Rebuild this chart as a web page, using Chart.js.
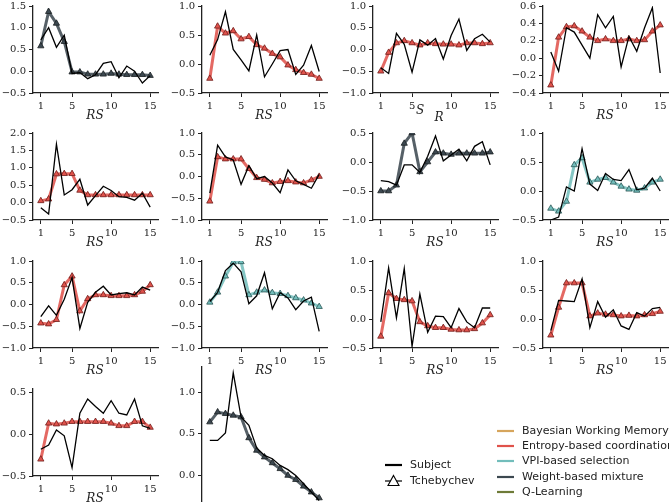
<!DOCTYPE html>
<html lang="en">
<head>
<meta charset="UTF-8">
<title>Tchebychev fits per subject</title>
<script src="https://cdn.jsdelivr.net/npm/chart.js"></script>
<style>
    body { margin: 0; background: #fff; }
    #figure { position: relative; width: 669px; height: 502px; overflow: hidden; }
    #figure canvas { position: absolute; }
    .xlabel { position: absolute; font: italic 12px 'DejaVu Serif', serif; color: #222; transform: translate(-50%, -50%); white-space: nowrap; }
    .leg { position: absolute; font: 11px 'DejaVu Sans', sans-serif; color: #222; white-space: nowrap; }
    .leg svg { position: absolute; }
</style>
</head>
<body>
<div id="figure"></div>
<script>
// x values: sessions 1..15
const sessions = [1, 2, 3, 4, 5, 6, 7, 8, 9, 10, 11, 12, 13, 14, 15];

// model names and colours
const modelNames = ['Bayesian Working Memory', 'Entropy-based coordination', 'VPI-based selection', 'Weight-based mixture', 'Q-Learning'];
const modelColors = ['#d6a55c', '#e0524b', '#72bdbb', '#3c4850', '#6e7b38'];
const modelEdges = ['#6b4f22', '#6e1d1a', '#2c5756', '#1a1f22', '#333b17'];

// which model gives the Tchebychev fit in each panel (index into modelNames)
const panelModel = [3, 1, 1, 1, 1, 1, 3, 2, 1, 2, 1, 1, 1, 3];

// y axis range and ticks per panel
const yMin = [-0.5, -0.5, -1.0, -0.4, -0.5, -1.0, -1.0, -0.5, -1.0, -1.0, -0.5, -0.5, -0.5, -0.45];
const yMax = [1.5, 1.0, 1.0, 0.6, 2.0, 1.0, 0.5, 1.0, 1.0, 1.0, 1.0, 1.0, 0.54, 1.3];
const yTicks = [
    [-0.5, 0, 0.5, 1, 1.5], [-0.5, 0, 0.5, 1], [-1, -0.5, 0, 0.5, 1], [-0.4, -0.2, 0, 0.2, 0.4, 0.6],
    [-0.5, 0, 0.5, 1, 1.5, 2], [-1, -0.5, 0, 0.5, 1], [-1, -0.5, 0, 0.5], [-0.5, 0, 0.5, 1],
    [-1, -0.5, 0, 0.5, 1], [-1, -0.5, 0, 0.5, 1], [-0.5, 0, 0.5, 1], [-0.5, 0, 0.5, 1],
    [-0.5, 0, 0.5], [0, 0.5, 1]
];

// subject curves
const subj01 = [0.72, 1.0, 0.55, 0.83, -0.05, -0.03, -0.17, -0.08, 0.18, 0.22, -0.15, 0.12, 0.0, -0.27, -0.1];
const subj02 = [0.15, 0.42, 0.9, 0.25, 0.07, -0.12, 0.5, -0.22, 0.0, 0.23, 0.25, -0.18, -0.02, 0.32, -0.13];
const subj03 = [-0.42, -0.55, 0.37, 0.12, -0.52, 0.22, 0.1, 0.25, -0.22, 0.32, 0.7, -0.02, 0.25, 0.35, 0.17];
const subj04 = [0.07, -0.15, 0.35, 0.3, 0.15, 0.0, 0.5, 0.35, 0.48, -0.1, 0.25, 0.08, 0.35, 0.58, -0.17];
const subj05 = [-0.15, -0.33, 1.68, 0.22, 0.37, 0.67, -0.07, 0.2, 0.47, 0.35, 0.17, 0.15, 0.07, 0.27, -0.13];
const subj06 = [-0.38, 0.72, 0.45, 0.38, -0.18, 0.25, -0.05, 0.0, -0.15, -0.37, 0.15, -0.1, -0.18, -0.27, 0.05];
const subj07 = [-0.32, -0.34, -0.4, -0.05, -0.05, -0.18, 0.1, 0.45, 0.02, 0.12, 0.22, 0.02, 0.27, 0.35, -0.05];
const subj08 = [-0.5, -0.45, 0.07, 0.0, 0.73, 0.12, 0.01, 0.3, 0.2, 0.18, 0.37, 0.02, 0.05, 0.22, 0.0];
const subj09 = [-0.28, -0.03, -0.25, 0.12, 0.62, -0.55, 0.05, 0.28, 0.42, 0.22, 0.25, 0.27, 0.22, 0.4, 0.33];
const subj10 = [0.07, 0.28, 0.78, 0.95, 0.75, 0.02, 0.2, 0.73, -0.1, 0.27, 0.15, -0.12, 0.08, 0.17, -0.62];
const subj11 = [-0.05, 0.88, 0.02, 0.87, -0.47, 0.43, -0.23, 0.05, 0.04, -0.15, 0.18, -0.05, -0.15, 0.19, 0.19];
const subj12 = [-0.2, 0.32, 0.31, 0.3, 0.69, -0.15, 0.3, 0.03, 0.16, -0.12, -0.18, 0.11, 0.05, 0.18, 0.2];
const subj13 = [-0.18, -0.13, 0.05, -0.02, -0.4, 0.25, 0.42, 0.33, 0.25, 0.4, 0.25, 0.23, 0.42, 0.1, 0.07];
const subj14 = [0.42, 0.42, 0.51, 1.23, 0.7, 0.6, 0.33, 0.24, 0.2, 0.12, 0.07, 0.0, -0.1, -0.2, -0.3];

// Tchebychev fits
const fit01 = [0.58, 1.37, 1.1, 0.68, -0.02, -0.02, -0.07, -0.07, -0.07, -0.05, -0.07, -0.08, -0.08, -0.08, -0.1];
const fit02 = [-0.25, 0.65, 0.53, 0.57, 0.43, 0.47, 0.33, 0.27, 0.18, 0.12, -0.02, -0.1, -0.15, -0.18, -0.25];
const fit03 = [-0.5, -0.07, 0.15, 0.2, 0.15, 0.1, 0.15, 0.13, 0.12, 0.12, 0.1, 0.15, 0.15, 0.13, 0.15];
const fit04 = [-0.31, 0.24, 0.36, 0.37, 0.31, 0.24, 0.2, 0.22, 0.2, 0.2, 0.22, 0.2, 0.21, 0.31, 0.38];
const fit05 = [0.05, 0.1, 0.82, 0.83, 0.83, 0.35, 0.22, 0.22, 0.22, 0.22, 0.22, 0.22, 0.22, 0.22, 0.22];
const fit06 = [-0.57, 0.45, 0.4, 0.4, 0.4, 0.18, -0.03, -0.07, -0.15, -0.12, -0.1, -0.13, -0.15, -0.08, 0.0];
const fit07 = [-0.5, -0.5, -0.4, 0.32, 0.5, -0.17, 0.0, 0.17, 0.15, 0.13, 0.15, 0.15, 0.15, 0.15, 0.17];
const fit08 = [-0.3, -0.35, -0.18, 0.45, 0.57, 0.15, 0.2, 0.23, 0.15, 0.08, 0.03, 0.01, 0.05, 0.15, 0.2];
const fit09 = [-0.43, -0.45, -0.35, 0.45, 0.65, -0.15, 0.13, 0.22, 0.22, 0.2, 0.2, 0.2, 0.22, 0.3, 0.45];
const fit10 = [0.05, 0.28, 0.65, 0.97, 0.98, 0.22, 0.28, 0.33, 0.27, 0.25, 0.2, 0.15, 0.1, 0.03, -0.05];
const fit11 = [-0.3, 0.45, 0.35, 0.33, 0.31, -0.05, -0.12, -0.15, -0.15, -0.18, -0.19, -0.19, -0.17, -0.07, 0.07];
const fit12 = [-0.28, 0.2, 0.62, 0.62, 0.62, 0.05, 0.1, 0.08, 0.07, 0.05, 0.06, 0.05, 0.07, 0.09, 0.13];
const fit13 = [-0.3, 0.13, 0.12, 0.13, 0.15, 0.15, 0.15, 0.15, 0.15, 0.13, 0.1, 0.1, 0.15, 0.15, 0.08];
const fit14 = [0.64, 0.76, 0.74, 0.72, 0.7, 0.45, 0.3, 0.22, 0.15, 0.08, 0.0, -0.05, -0.13, -0.2, -0.27];

const subjects = [subj01, subj02, subj03, subj04, subj05, subj06, subj07, subj08, subj09, subj10, subj11, subj12, subj13, subj14];
const fits = [fit01, fit02, fit03, fit04, fit05, fit06, fit07, fit08, fit09, fit10, fit11, fit12, fit13, fit14];

// layout: left edge of y axis per column, top of plot per row
const colX = [33, 202, 373, 543];
const rowY = [5, 132, 260, 388];
const plotW = 125, plotH = 88;
const padTop = 8, padRight = 8, axisW = 33, axisH = 24;

const fig = document.getElementById('figure');

function fmt(v) {
    const s = Math.abs(v).toFixed(1);
    return (v < -1e-9 ? '\u2212' : '') + s;
}

function pts(arr) {
    return sessions.map((x, i) => ({ x: x, y: arr[i] }));
}

subjects.forEach((subj, p) => {
    const col = p % 4, row = Math.floor(p / 4);
    // last panel is taller (same 84 px per unit as its neighbour, runs off the bottom)
    let top = rowY[row], ph = plotH;
    if (p === 13) { top = 475 - 84 * yMax[p]; ph = 84 * (yMax[p] - yMin[p]); }
    const c = document.createElement('canvas');
    const w = axisW + plotW + padRight, h = Math.round(padTop + ph + axisH);
    c.width = w; c.height = h;
    c.style.left = (colX[col] - axisW) + 'px';
    c.style.top = Math.round(top - padTop) + 'px';
    c.style.width = w + 'px'; c.style.height = h + 'px';
    fig.appendChild(c);

    const m = panelModel[p];
    const axisCommon = {
        border: { display: true, color: '#222', width: 1.3 },
        grid: { display: true, drawOnChartArea: false, drawTicks: true, tickLength: 4, color: '#222', tickWidth: 1 },
        ticks: { color: '#222', font: { family: 'DejaVu Serif', size: 10 }, padding: 3, autoSkip: false, maxRotation: 0 }
    };

    new Chart(c, {
        type: 'line',
        data: {
            datasets: [
                {
                    label: 'Subject', data: pts(subj), borderColor: '#000', borderWidth: 1.3,
                    pointRadius: 0, tension: 0, order: 1
                },
                {
                    label: 'Tchebychev', data: pts(fits[p]), borderColor: modelColors[m] + 'dd', borderWidth: 3,
                    pointStyle: 'triangle', pointRadius: 3.6, pointBackgroundColor: modelColors[m],
                    pointBorderColor: modelEdges[m], pointBorderWidth: 0.8, tension: 0, order: 2
                }
            ]
        },
        options: {
            responsive: false,
            animation: false,
            devicePixelRatio: 1,
            layout: { padding: { top: padTop, right: padRight, left: 0, bottom: 0 } },
            plugins: { legend: { display: false }, tooltip: { enabled: false } },
            scales: {
                x: Object.assign({}, axisCommon, {
                    type: 'linear', min: 0, max: 16,
                    afterBuildTicks: s => { s.ticks = [1, 5, 10, 15].map(v => ({ value: v })); },
                    afterFit: s => { s.height = axisH; },
                    ticks: Object.assign({}, axisCommon.ticks, { callback: v => String(v) })
                }),
                y: Object.assign({}, axisCommon, {
                    min: yMin[p], max: yMax[p],
                    afterBuildTicks: s => { s.ticks = yTicks[p].map(v => ({ value: v })); },
                    afterFit: s => { s.width = axisW; },
                    ticks: Object.assign({}, axisCommon.ticks, { callback: v => fmt(v) })
                })
            }
        }
    });

    // x axis label
    if (p === 2) {
        addLabel('S', colX[col] + 47, rowY[row] + plotH + 17);
        addLabel('R', colX[col] + 66, rowY[row] + plotH + 24);
    } else if (p !== 13) {
        addLabel('RS', colX[col] + 62, rowY[row] + plotH + 22);
    }
});

function addLabel(text, x, y) {
    const d = document.createElement('div');
    d.className = 'xlabel';
    d.textContent = text;
    d.style.left = x + 'px';
    d.style.top = y + 'px';
    fig.appendChild(d);
}

// legends
function legendLine(x, y, color, text, marker) {
    const d = document.createElement('div');
    d.className = 'leg';
    d.style.left = x + 'px';
    d.style.top = (y - 8) + 'px';
    let svg = '<svg width="20" height="16" style="left:0;top:0"><line x1="1" y1="8" x2="18" y2="8" stroke="' + color + '" stroke-width="' + (marker ? 1.2 : 2.2) + '"/>';
    if (marker) svg += '<polygon points="9.5,2.5 15,12.5 4,12.5" fill="#fff" stroke="#000" stroke-width="1.1"/>';
    svg += '</svg>';
    d.innerHTML = svg + '<span style="position:absolute;left:' + (marker ? 26 : 26) + 'px;top:1px">' + text + '</span>';
    fig.appendChild(d);
}
legendLine(384, 465, '#000', 'Subject', false);
legendLine(384, 481, '#000', 'Tchebychev', true);
const legY = [431, 446, 461, 477, 492];
modelNames.forEach((n, i) => legendLine(496, legY[i], modelColors[i], n, false));
</script>
</body>
</html>
